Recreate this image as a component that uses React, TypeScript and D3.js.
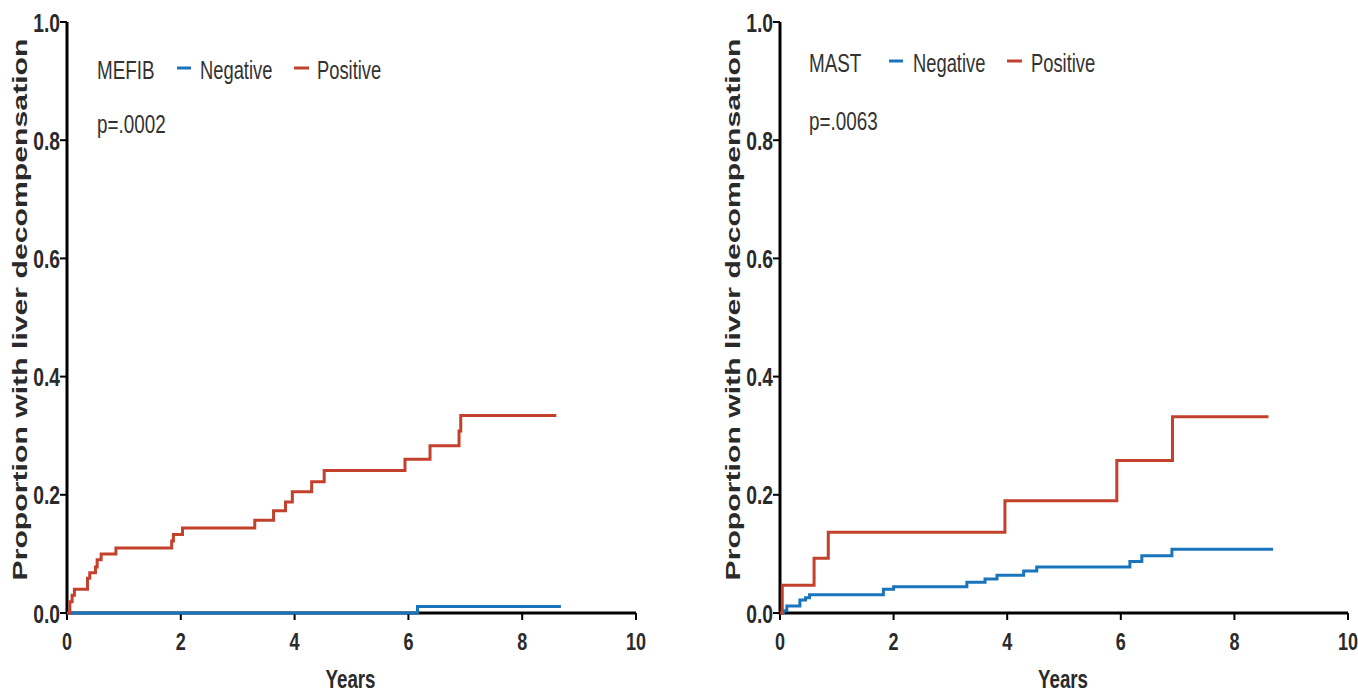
import React from "react";
import * as d3 from "d3";

const xTicks = [0, 2, 4, 6, 8, 10];
const yTicks = [0, 0.2, 0.4, 0.6, 0.8, 1.0];

// MEFIB panel
const mefibPosTimes = [0, 0.05, 0.09, 0.13, 0.36, 0.4, 0.5, 0.53, 0.6, 0.86, 1.84, 1.87, 2.03, 3.3, 3.63, 3.84, 3.96, 4.3, 4.52, 5.94, 6.38, 6.89, 6.92, 8.6];
const mefibPosValues = [0, 0.019, 0.03, 0.04, 0.059, 0.068, 0.078, 0.09, 0.1, 0.11, 0.122, 0.133, 0.144, 0.157, 0.173, 0.188, 0.205, 0.222, 0.241, 0.26, 0.283, 0.308, 0.334, 0.334];
const mefibNegTimes = [0, 6.16, 8.68];
const mefibNegValues = [0, 0.011, 0.011];

// MAST panel
const mastPosTimes = [0, 0.04, 0.6, 0.85, 3.96, 5.93, 6.91, 8.6];
const mastPosValues = [0, 0.047, 0.0925, 0.1365, 0.19, 0.258, 0.332, 0.332];
const mastNegTimes = [0, 0.06, 0.12, 0.35, 0.45, 0.52, 1.82, 2.0, 3.29, 3.61, 3.82, 4.29, 4.52, 6.16, 6.37, 6.9, 8.68];
const mastNegValues = [0, 0.004, 0.0118, 0.022, 0.026, 0.031, 0.04, 0.0445, 0.052, 0.0575, 0.064, 0.071, 0.078, 0.087, 0.097, 0.108, 0.108];

const legendLabels = ["Negative", "Positive"];
const colors = { neg: "#1a74bb", pos: "#c2402c" };

const sans = "'Liberation Sans', Arial, sans-serif";

type NTextProps = {
  x: number; y: number; sx: number; size: number; bold?: boolean; anchor?: string; fill?: string; children: React.ReactNode;
};
function NText({ x, y, sx, size, bold, anchor, fill, children }: NTextProps) {
  return (
    <text transform={`translate(${x},${y}) scale(${sx},1)`} textAnchor={anchor || "start"} fontFamily={sans}
      fontWeight={bold ? "bold" : "normal"} fontSize={size} fill={fill || "#333"}>{children}</text>
  );
}

type Panel = {
  x0: number;
  x1: number;
  yTitleX: number;
  title: string;
  pval: string;
  legendY: number;
  dashY: number;
  pY: number;
  negT: number[]; negV: number[]; posT: number[]; posV: number[];
  legendX: number[]; // title, negDash, negText, posDash, posText
};

const panels: Panel[] = [
  { x0: 67, x1: 636, yTitleX: 27, title: "MEFIB", pval: "p=.0002", legendY: 79, dashY: 68, pY: 133,
    negT: mefibNegTimes, negV: mefibNegValues, posT: mefibPosTimes, posV: mefibPosValues,
    legendX: [97, 177, 200, 294, 317] },
  { x0: 780, x1: 1348, yTitleX: 740, title: "MAST", pval: "p=.0063", legendY: 72, dashY: 61, pY: 130,
    negT: mastNegTimes, negV: mastNegValues, posT: mastPosTimes, posV: mastPosValues,
    legendX: [809, 889, 913, 1007, 1031] },
];

function PanelView({ p }: { p: Panel }) {
  const x = d3.scaleLinear().domain([0, 10]).range([p.x0, p.x1]);
  const y = d3.scaleLinear().domain([0, 1]).range([613, 22]);
  const line = d3.line<[number, number]>().x((d) => x(d[0])).y((d) => y(d[1])).curve(d3.curveStepAfter);
  const neg = line(p.negT.map((t, i) => [t, p.negV[i]] as [number, number])) || "";
  const pos = line(p.posT.map((t, i) => [t, p.posV[i]] as [number, number])) || "";
  const [tx, nd, nt, pd, pt] = p.legendX;
  return (
    <g>
      {/* axes */}
      <line x1={x(0)} x2={x(10)} y1={y(0)} y2={y(0)} stroke="#000" strokeWidth={3} />
      <line x1={x(0)} x2={x(0)} y1={y(0) + 1.5} y2={y(1)} stroke="#000" strokeWidth={3} />
      {xTicks.map((t) => (
        <g key={"x" + t}>
          <line x1={x(t)} x2={x(t)} y1={y(0)} y2={y(0) + 7} stroke="#000" strokeWidth={2} />
          <NText x={x(t)} y={650} sx={0.75} size={24} bold anchor="middle" fill="#2a2a2a">{t}</NText>
        </g>
      ))}
      {yTicks.map((t) => (
        <g key={"y" + t}>
          <line x1={x(0) - 7} x2={x(0)} y1={y(t)} y2={y(t)} stroke="#000" strokeWidth={2} />
          <NText x={x(0) - 7} y={y(t) + 9.5} sx={0.77} size={25} bold anchor="end" fill="#2a2a2a">{t.toFixed(1)}</NText>
        </g>
      ))}
      <NText x={(x(0) + x(10)) / 2 - 1} y={688} sx={0.72} size={26} bold anchor="middle" fill="#2a2a2a">Years</NText>
      <text transform={`translate(${p.yTitleX},${(y(0) + y(1)) / 2 - 8}) rotate(-90)`} textAnchor="middle" fontFamily={sans} fontWeight="bold" fontSize={20} fill="#2a2a2a" textLength={542} lengthAdjust="spacingAndGlyphs">Proportion with liver decompensation</text>
      {/* curves */}
      <path d={neg} fill="none" stroke={colors.neg} strokeWidth={3} />
      <path d={pos} fill="none" stroke={colors.pos} strokeWidth={3} />
      {/* legend */}
      <NText x={tx} y={p.legendY} sx={0.74} size={25.5}>{p.title}</NText>
      <line x1={nd} x2={nd + 14} y1={p.dashY} y2={p.dashY} stroke={colors.neg} strokeWidth={3} />
      <NText x={nt} y={p.legendY} sx={0.72} size={25.5}>{legendLabels[0]}</NText>
      <line x1={pd} x2={pd + 15} y1={p.dashY} y2={p.dashY} stroke={colors.pos} strokeWidth={3} />
      <NText x={pt} y={p.legendY} sx={0.72} size={25.5}>{legendLabels[1]}</NText>
      <NText x={tx} y={p.pY} sx={0.74} size={25.5}>{p.pval}</NText>
    </g>
  );
}

export default function App() {
  return (
    <svg width={1358} height={694} style={{ position: "absolute", left: 0, top: 0, background: "#fff" }}>
      <rect width={1358} height={694} fill="#fff" />
      {panels.map((p) => (
        <PanelView key={p.title} p={p} />
      ))}
    </svg>
  );
}
